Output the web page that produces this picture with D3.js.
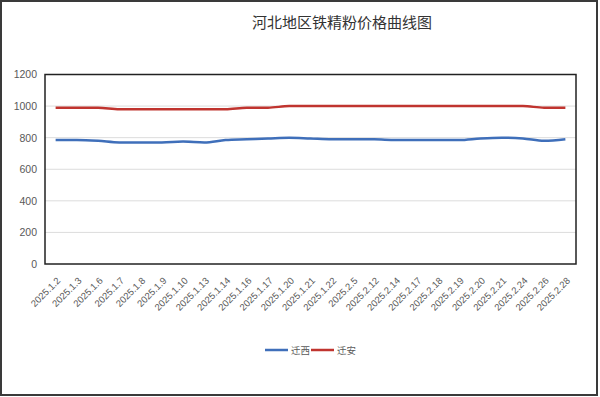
<!DOCTYPE html>
<html><head><meta charset="utf-8">
<script src="https://cdn.jsdelivr.net/npm/d3@7"></script>
<style>body{margin:0;background:#fff}svg{display:block}</style>
</head><body>
<svg id="c" width="600" height="397"></svg>
<script>
const categories = ["2025.1.2","2025.1.3","2025.1.6","2025.1.7","2025.1.8","2025.1.9","2025.1.10","2025.1.13","2025.1.14","2025.1.16","2025.1.17","2025.1.20","2025.1.21","2025.1.22","2025.2.5","2025.2.12","2025.2.14","2025.2.17","2025.2.18","2025.2.19","2025.2.20","2025.2.21","2025.2.24","2025.2.26","2025.2.28"];
const qianxi = [785,785,780,770,770,770,775,770,785,790,795,800,795,790,790,790,785,785,785,785,795,800,795,780,790];
const qianan = [990,990,990,980,980,980,980,980,980,990,990,1000,1000,1000,1000,1000,1000,1000,1000,1000,1000,1000,1000,990,990];
const yTicks = [0,200,400,600,800,1000,1200];
const seriesNames = ["迁西","迁安"];
const colors = ["#3f6fba","#c0342f"];

const svg = d3.select("#c");
const L = 45, R = 576, T = 74.5, B = 264;
const x = d3.scaleBand().domain(categories).range([L, R]);
const y = d3.scaleLinear().domain([0, 1200]).range([B, T]);

// outer frame
svg.append("rect").attr("x",1).attr("y",1).attr("width",596).attr("height",394)
  .attr("fill","#fff").attr("stroke","#3a3a3a").attr("stroke-width",2);

// title
svg.append("text").attr("x",342).attr("y",28).attr("text-anchor","middle")
  .attr("font-family","'Noto Sans CJK SC'").attr("font-size",15).attr("fill","#333")
  .text("河北地区铁精粉价格曲线图");

// gridlines
svg.append("g").selectAll("line").data(yTicks.filter(d=>d>0 && d<1200)).join("line")
  .attr("x1",L).attr("x2",R).attr("y1",d=>y(d)).attr("y2",d=>y(d))
  .attr("stroke","#dcdcdc").attr("stroke-width",1);

// y axis labels
const ya = svg.append("g").attr("transform",`translate(${L},0)`)
  .call(d3.axisLeft(y).tickValues(yTicks).tickFormat(d3.format("d")).tickSize(0).tickPadding(8));
ya.select(".domain").remove();
ya.selectAll("text").attr("font-family","'Liberation Sans',Arial").attr("font-size",10.5).attr("fill","#595959");

// x axis labels
const xa = svg.append("g").attr("transform",`translate(0,${B})`)
  .call(d3.axisBottom(x).tickSize(0));
xa.select(".domain").remove();
xa.selectAll("text").attr("font-family","'Liberation Sans',Arial").attr("font-size",9.5).attr("fill","#595959")
  .attr("text-anchor","end").attr("dy","0.35em")
  .attr("transform","translate(3,15) rotate(-45)").attr("y",0).attr("x",0);

// lines
const line = d3.line().x((d,i)=>x(categories[i]) + x.bandwidth()/2).y(d=>y(d)).curve(d3.curveMonotoneX);
[qianxi, qianan].forEach((s,k)=>{
  svg.append("path").datum(s).attr("d",line).attr("fill","none")
    .attr("stroke",colors[k]).attr("stroke-width",2.5).attr("stroke-linejoin","round");
});

// plot border
svg.append("rect").attr("x",L).attr("y",T).attr("width",R-L).attr("height",B-T)
  .attr("fill","none").attr("stroke","#222").attr("stroke-width",1.5);

// legend
const lg = svg.append("g");
const legX = [265, 311];
seriesNames.forEach((n,k)=>{
  lg.append("line").attr("x1",legX[k]).attr("x2",legX[k]+23).attr("y1",350).attr("y2",350)
    .attr("stroke",colors[k]).attr("stroke-width",2.5);
  lg.append("text").attr("x",legX[k]+26).attr("y",353.5)
    .attr("font-family","'Noto Sans CJK SC'").attr("font-size",9.5).attr("fill","#595959").text(n);
});
</script>
</body></html>
